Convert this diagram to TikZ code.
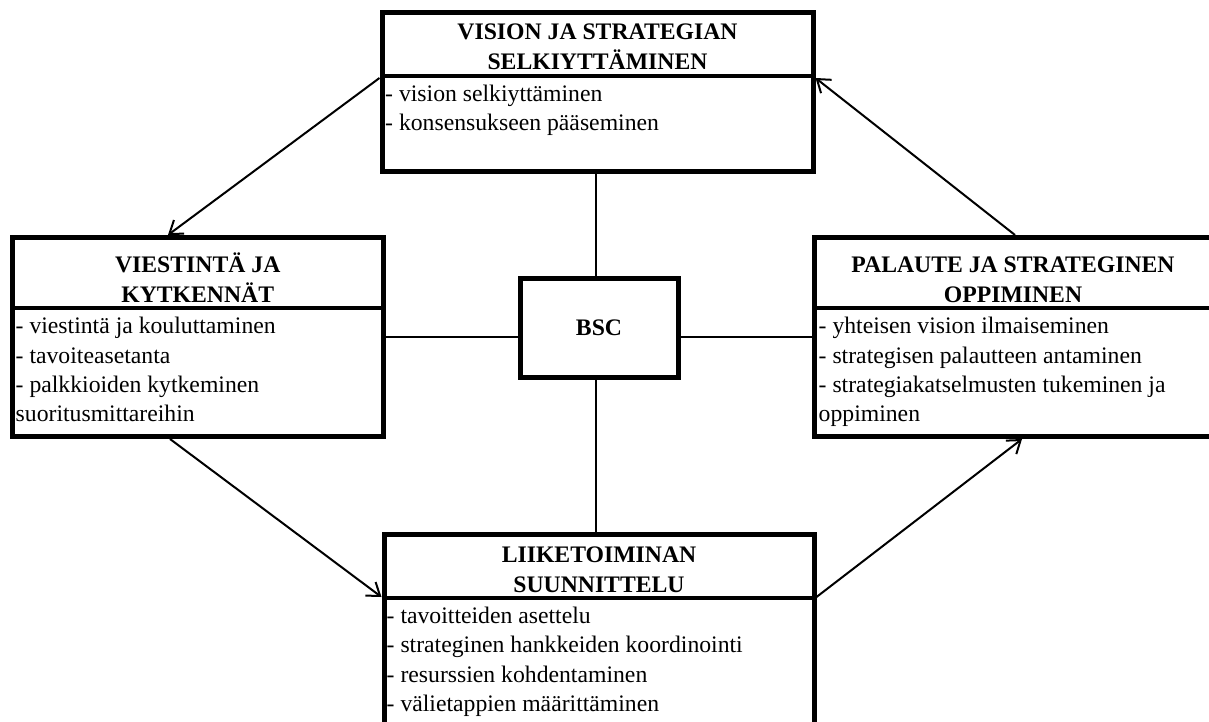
\documentclass[tikz,border=0pt]{standalone}
\usepackage{fontspec}
\setmainfont{Liberation Serif}
\usetikzlibrary{arrows.meta}
\begin{document}
\begin{tikzpicture}[x=1pt,y=-1pt,
  box/.style={draw, line width=5pt, inner sep=0pt, fill=white},
  divider/.style={line width=4pt},
  link/.style={line width=2pt},
  flow/.style={line width=2pt, -{Straight Barb[length=12pt,width=17pt]}},
  title/.style={font=\fontsize{23.7}{29.5}\selectfont\bfseries, inner sep=0pt, anchor=base},
  body/.style={font=\fontsize{23.7}{29.5}\selectfont, inner sep=0pt, anchor=base west}]
\useasboundingbox (0,0) rectangle (1209,722);

% the four framed boxes and the central BSC box
\node[box, minimum width=431pt, minimum height=159pt] (vis) at (597.5,92.5) {};
\node[box, minimum width=370.5pt, minimum height=199pt] (vk) at (197.75,337) {};
\node[box, minimum width=398pt, minimum height=199pt] (pal) at (1013,337) {};
\node[box, minimum width=430pt, minimum height=226pt] (lt) at (599,647) {};
\node[box, minimum width=158pt, minimum height=99pt,
      font=\fontsize{23.7}{29.5}\selectfont\bfseries] (bsc) at (599,327.5) {BSC};

% header separators
\draw[divider] (382,76) -- (813,76);
\draw[divider] (12.5,308) -- (383,308);
\draw[divider] (814,308) -- (1212,308);
\draw[divider] (384,598) -- (814,598);

% headings
\node[title] (vis-t1) at (597.5,40) {VISION JA STRATEGIAN};
\node[title] (vis-t2) at (597.5,70) {SELKIYTTÄMINEN};
\node[title] (vk-t1) at (197.75,272) {VIESTINTÄ JA};
\node[title] (vk-t2) at (197.75,302) {KYTKENNÄT};
\node[title] (pal-t1) at (1013,272) {PALAUTE JA STRATEGINEN};
\node[title] (pal-t2) at (1013,302) {OPPIMINEN};
\node[title] (lt-t1) at (599,562) {LIIKETOIMINAN};
\node[title] (lt-t2) at (599,592) {SUUNNITTELU};

% item lists
\foreach \t [count=\i] in {- vision selkiyttäminen, - konsensukseen pääseminen}
  \node[body] (vis-\i) at (385,{101.5+29.5*(\i-1)}) {\t};
\foreach \t [count=\i] in {- viestintä ja kouluttaminen, - tavoiteasetanta,
    - palkkioiden kytkeminen, suoritusmittareihin}
  \node[body] (vk-\i) at (15.5,{333.8+29.2*(\i-1)}) {\t};
\foreach \t [count=\i] in {- yhteisen vision ilmaiseminen, - strategisen palautteen antaminen,
    - strategiakatselmusten tukeminen ja, oppiminen}
  \node[body] (pal-\i) at (818.5,{333.8+29.2*(\i-1)}) {\t};
\foreach \t [count=\i] in {- tavoitteiden asettelu, - strateginen hankkeiden koordinointi,
    - resurssien kohdentaminen, - välietappien määrittäminen}
  \node[body] (lt-\i) at (386.5,{623.5+29.3*(\i-1)}) {\t};

% connector end points on the box edges
\coordinate (vis-w) at (vis.west |- 0,78);
\coordinate (vis-e) at (vis.east |- 0,78);
\coordinate (vk-n) at (vk.north -| 168,0);
\coordinate (vk-s) at (vk.south -| 170,0);
\coordinate (pal-n) at (pal.north -| 1015,0);
\coordinate (pal-s) at (pal.south -| 1022,0);
\coordinate (lt-w) at (lt.west |- 0,597);
\coordinate (lt-e) at (lt.east |- 0,597);
\coordinate (bsc-n) at ([xshift=-3pt]bsc.north);
\coordinate (bsc-s) at ([xshift=-3pt]bsc.south);

% cycle of arrows
\draw[flow] (vis-w) -- (vk-n);
\draw[flow] (vk-s) -- (lt-w);
\draw[flow] (lt-e) -- (pal-s);
\draw[flow] (pal-n) -- (vis-e);

% spokes from BSC
\draw[link] (bsc-n) -- (bsc-n |- vis.south);
\draw[link] (bsc-s) -- (bsc-s |- lt.north);
\draw[link] (bsc.west |- vk.east) -- (vk.east);
\draw[link] (bsc.east |- pal.west) -- (pal.west);
\end{tikzpicture}
\end{document}
